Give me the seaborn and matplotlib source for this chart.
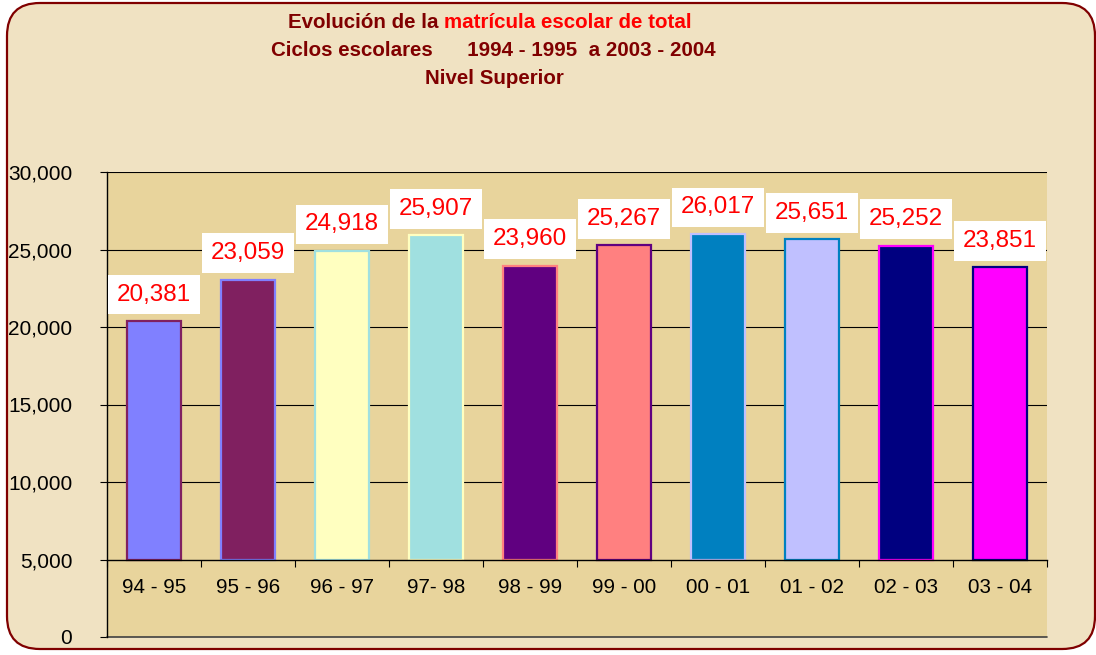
import matplotlib
matplotlib.use('Agg')
import matplotlib.pyplot as plt
from matplotlib.patches import FancyBboxPatch
import seaborn as sns
import pandas as pd

# Data
ciclos = ['94 - 95', '95 - 96', '96 - 97', '97- 98', '98 - 99',
          '99 - 00', '00 - 01', '01 - 02', '02 - 03', '03 - 04']
matricula = [20381, 23059, 24918, 25907, 23960, 25267, 26017, 25651, 25252, 23851]
fill_colors = ['#8080FF', '#802060', '#FFFFC0', '#A0E0E0', '#600080',
               '#FF8080', '#0080C0', '#C0C0FF', '#000080', '#FF00FF']
edge_colors = ['#802060', '#8080FF', '#A0E0E0', '#FFFFC0', '#FF8080',
               '#600080', '#C0C0FF', '#0080C0', '#FF00FF', '#000080']
base = 5000

sns.set_theme(style='white')
plt.rcParams['font.family'] = ['Liberation Sans', 'DejaVu Sans']

fig = plt.figure(figsize=(10.96, 6.55), dpi=100)
fig.patch.set_facecolor('white')

# rounded parchment frame
frame = FancyBboxPatch((7 / 1096, 6 / 655), 1088 / 1096, 646 / 655,
                       boxstyle='round,pad=0,rounding_size=0.03',
                       transform=fig.transFigure, facecolor='#F0E2C2',
                       edgecolor='#800000', linewidth=1.6, zorder=-5,
                       mutation_aspect=1096 / 655)
fig.patches.append(frame)

ax = fig.add_axes([107 / 1096, 1 - 637 / 655, 940 / 1096, 465 / 655])
ax.set_zorder(1)
ax.set_facecolor('#E8D49C')

df = pd.DataFrame({'ciclo': ciclos, 'matricula': matricula})
sns.barplot(data=df, x='ciclo', y='matricula', hue='ciclo', palette=fill_colors,
            legend=False, width=0.57, ax=ax, zorder=3, saturation=1)

# bars rise from the 5,000 line
for patch, ec in zip(ax.patches, edge_colors):
    top = patch.get_y() + patch.get_height()
    patch.set_y(base)
    patch.set_height(top - base)
    patch.set_edgecolor(ec)
    patch.set_linewidth(1.6)

for i, v in enumerate(matricula):
    ax.annotate(f'{v:,}', (i, v), xytext=(0, 19), textcoords='offset points',
                ha='center', va='center', fontsize=17.5, color='#FF0000', zorder=5,
                bbox=dict(boxstyle='square,pad=0.36', facecolor='white', edgecolor='none'))

ax.set_ylim(0, 30000)
ax.set_xlim(-0.5, len(ciclos) - 0.5)
ax.set_yticks(range(0, 30001, 5000))
ax.set_yticklabels([f'{t:,}' for t in range(0, 30001, 5000)], fontsize=15, color='black')
ax.tick_params(axis='y', direction='out', length=5, width=0.8, color='black', pad=20, left=True)

for y in range(10000, 30001, 5000):
    ax.axhline(y, color='black', linewidth=0.8, zorder=1)
ax.axhline(0, color='#404040', linewidth=1.2, zorder=1, clip_on=False)

# category axis sits on the 5,000 line
ax.spines['bottom'].set_position(('data', base))
ax.spines['bottom'].set_color('black')
ax.spines['bottom'].set_linewidth(1.0)
ax.spines['bottom'].set_zorder(4)
ax.set_xticks([i + 0.5 for i in range(len(ciclos) - 1)] + [-0.5, len(ciclos) - 0.5])
ax.set_xticklabels([])
ax.tick_params(axis='x', which='major', direction='out', length=5, width=0.8,
               color='black', bottom=True)
ax.set_xticks(range(len(ciclos)), minor=True)
ax.set_xticklabels(ciclos, minor=True, fontsize=14.8, color='black')
ax.tick_params(axis='x', which='minor', length=0, pad=13, bottom=True)

ax.spines['left'].set_color('black')
ax.spines['left'].set_linewidth(1.0)
ax.spines['top'].set_visible(False)
ax.spines['right'].set_visible(False)
ax.set_xlabel('')
ax.set_ylabel('')

# title
dark = '#800000'
tsize = 14.8
fig.text(444 / 1096, 1 - 23 / 655, 'Evolución de la ', ha='right', va='center',
         fontsize=tsize, fontweight='bold', color=dark)
fig.text(444 / 1096, 1 - 23 / 655, 'matrícula escolar de total', ha='left', va='center',
         fontsize=tsize, fontweight='bold', color='#FF0000')
fig.text(493 / 1096, 1 - 51 / 655, 'Ciclos escolares      1994 - 1995  a 2003 - 2004',
         ha='center', va='center', fontsize=tsize, fontweight='bold', color=dark)
fig.text(494 / 1096, 1 - 79 / 655, 'Nivel Superior', ha='center', va='center',
         fontsize=tsize, fontweight='bold', color=dark)

fig.savefig('out.png', dpi=100, facecolor=fig.get_facecolor())
